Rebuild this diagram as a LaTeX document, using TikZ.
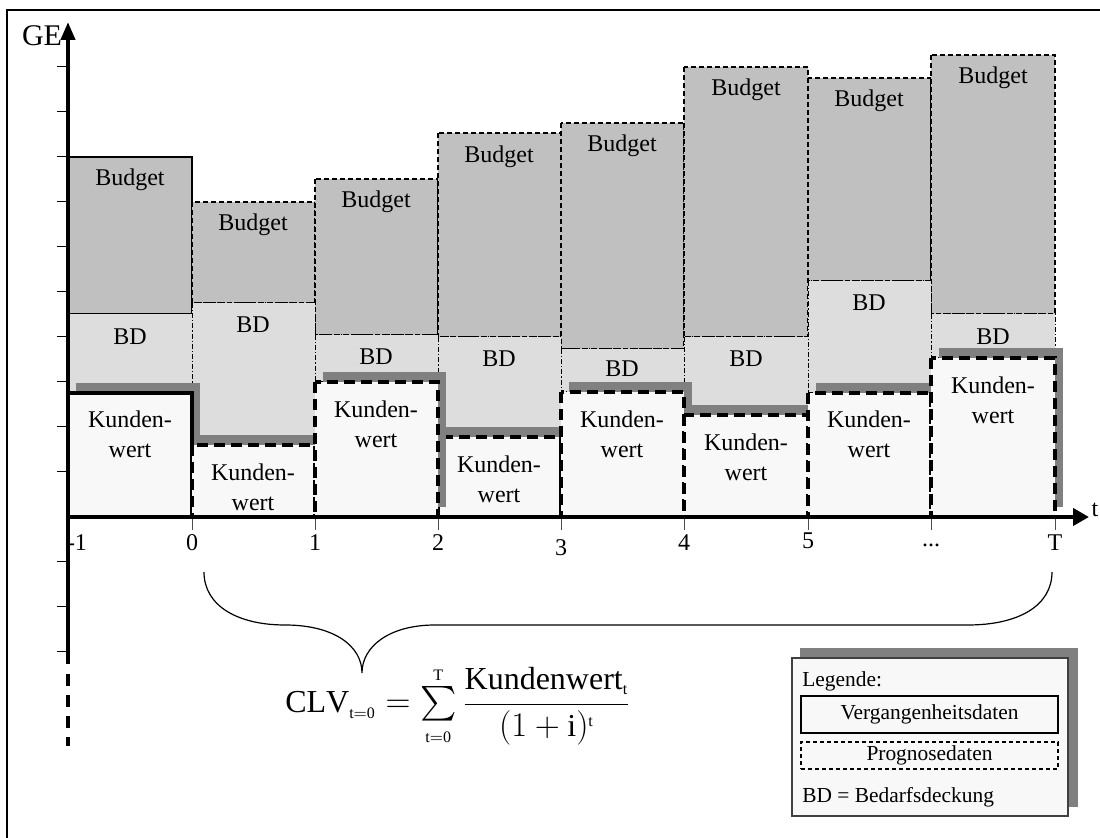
\documentclass[tikz,border=0pt]{standalone}
\usepackage{amsmath}
\usepackage{fontspec}
\setmainfont{Liberation Serif}
\usetikzlibrary{arrows.meta}

\definecolor{budgetgray}{HTML}{C0C0C0}
\definecolor{bdgray}{HTML}{DDDDDD}
\definecolor{kwwhite}{HTML}{F8F8F8}
\definecolor{shadowgray}{HTML}{808080}

\tikzset{
  lbl/.style={inner sep=0pt, align=center, font=\fontsize{12}{15}\selectfont},
  budpast/.style={fill=budgetgray, draw=black, line width=0.6pt},
  budprog/.style={fill=budgetgray, draw=black, line width=0.6pt, dash pattern=on 2.5pt off 1.5pt},
  bdpast/.style={fill=bdgray, draw=black, line width=0.5pt},
  bdprog/.style={fill=bdgray, draw=black, line width=0.5pt, dash pattern=on 2.5pt off 1pt on 0.6pt off 1pt},
  kwpast/.style={fill=kwwhite, draw=black, line width=1.6pt},
  kwprog/.style={fill=kwwhite, draw=black, line width=1.6pt, dash pattern=on 5.5pt off 3pt},
  kwshadow/.style={fill=shadowgray},
  axis/.style={line width=2pt},
  ticklbl/.style={inner sep=0pt, font=\fontsize{12}{14}\selectfont},
  legtxt/.style={inner sep=0pt, font=\fontsize{10.7}{13}\selectfont}
}

\begin{document}
\begin{tikzpicture}[x=0.5pt, y=-0.5pt]
  \useasboundingbox (0,0) rectangle (1100,838);
  \draw[line width=1pt] (7,838) -- (7,10) -- (1100,10);

  % Budget
  \filldraw[budpast] (68,157) rectangle (192,314);
  \filldraw[budprog] (192,202) rectangle (315,303);
  \filldraw[budprog] (315,179) rectangle (438,335);
  \filldraw[budprog] (438,133) rectangle (561,337);
  \filldraw[budprog] (561,123) rectangle (684,349);
  \filldraw[budprog] (684,67) rectangle (808,337);
  \filldraw[budprog] (808,78) rectangle (931,281);
  \filldraw[budprog] (931,55) rectangle (1055,314);

  % Bedarfsdeckung
  \filldraw[bdpast] (68,314) rectangle (192,393);
  \filldraw[bdprog] (192,303) rectangle (315,445);
  \filldraw[bdprog] (315,335) rectangle (438,382);
  \filldraw[bdprog] (438,337) rectangle (561,437);
  \filldraw[bdprog] (561,349) rectangle (684,392);
  \filldraw[bdprog] (684,337) rectangle (808,415);
  \filldraw[bdprog] (808,281) rectangle (931,393);
  \filldraw[bdprog] (931,314) rectangle (1055,358);

  % Kundenwert mit Schatten
  \fill[kwshadow] (76,383) rectangle (200,507);
  \filldraw[kwpast] (68,393) rectangle (192,517);
  \fill[kwshadow] (200,435) rectangle (323,507);
  \filldraw[kwprog] (192,445) rectangle (315,517);
  \fill[kwshadow] (446,427) rectangle (569,507);
  \filldraw[kwprog] (438,437) rectangle (561,517);
  \fill[kwshadow] (569,382) rectangle (692,507);
  \filldraw[kwprog] (561,392) rectangle (684,517);
  \fill[kwshadow] (692,405) rectangle (816,507);
  \filldraw[kwprog] (684,415) rectangle (808,517);
  \fill[kwshadow] (816,383) rectangle (939,507);
  \filldraw[kwprog] (808,393) rectangle (931,517);
  \fill[kwshadow] (939,348) rectangle (1063,507);
  \filldraw[kwprog] (931,358) rectangle (1055,517);
  \fill[kwshadow] (323,372) rectangle (446,507);
  \filldraw[kwprog] (315,382) rectangle (438,517);

  % Beschriftung
  \node[lbl] (budm1) at (130,180) {Budget};
  \node[lbl] (bud0) at (253,225) {Budget};
  \node[lbl] (bud1) at (376,202) {Budget};
  \node[lbl] (bud2) at (499,157) {Budget};
  \node[lbl] (bud3) at (622,146) {Budget};
  \node[lbl] (bud4) at (746,90) {Budget};
  \node[lbl] (bud5) at (869,101) {Budget};
  \node[lbl] (budT) at (993,78) {Budget};

  \node[lbl] (bdm1) at (130,337) {BD};
  \node[lbl] (bd0) at (253,325) {BD};
  \node[lbl] (bd1) at (376,357) {BD};
  \node[lbl] (bd2) at (499,359) {BD};
  \node[lbl] (bd3) at (622,369) {BD};
  \node[lbl] (bd4) at (746,359) {BD};
  \node[lbl] (bd5) at (869,303) {BD};
  \node[lbl] (bdT) at (993,337) {BD};

  \node[lbl] (kwm1) at (130,434) {Kunden-\\wert};
  \node[lbl] (kw0) at (253,487) {Kunden-\\wert};
  \node[lbl] (kw1) at (376,424) {Kunden-\\wert};
  \node[lbl] (kw2) at (499,479) {Kunden-\\wert};
  \node[lbl] (kw3) at (622,434) {Kunden-\\wert};
  \node[lbl] (kw4) at (746,457) {Kunden-\\wert};
  \node[lbl] (kw5) at (869,434) {Kunden-\\wert};
  \node[lbl] (kwT) at (993,400) {Kunden-\\wert};

  % Achsen
  \coordinate (o) at (68,517);
  \coordinate (ytop) at (68,22);
  \coordinate (ybot) at (68,664);
  \coordinate (ydash) at (68,674);
  \coordinate (ytail) at (68,746);
  \coordinate (xend) at (1089,517);
  \draw[line width=0.5pt] (57,67) -- (68,67) (57,112) -- (68,112) (57,157) -- (68,157)
    (57,202) -- (68,202) (57,247) -- (68,247) (57,292) -- (68,292) (57,337) -- (68,337)
    (57,382) -- (68,382) (57,427) -- (68,427) (57,472) -- (68,472) (57,562) -- (68,562)
    (57,607) -- (68,607) (57,652) -- (68,652);
  \draw[line width=0.5pt, black!70] (192,517) -- (192,530) (315,517) -- (315,530)
    (438,517) -- (438,530) (561,517) -- (561,530) (684,517) -- (684,530)
    (808,517) -- (808,530) (931,517) -- (931,530) (1055,517) -- (1055,530);
  \draw[axis, -{Triangle[length=9pt,width=7pt]}] (ybot) -- (ytop);
  \draw[axis, dash pattern=on 6pt off 4.5pt] (ydash) -- (ytail);
  \draw[axis, -{Triangle[length=8pt,width=8.5pt]}] (o) -- (xend);

  \node[inner sep=0pt, font=\fontsize{15}{18}\selectfont] (ge) at (42,36) {GE};
  \node[ticklbl] (tlbl) at (1095,510) {t};
  \node[ticklbl] (tm1) at (77,543) {-1};
  \node[ticklbl] (t0) at (192,543) {0};
  \node[ticklbl] (t1) at (315,543) {1};
  \node[ticklbl] (t2) at (438,543) {2};
  \node[ticklbl] (t3) at (561,548) {3};
  \node[ticklbl] (t4) at (684,543) {4};
  \node[ticklbl] (t5) at (808,541) {5};
  \node[ticklbl] (tdots) at (931,545) {...};
  \node[ticklbl] (tT) at (1055,543) {T};

  % Klammer und Formel
  \draw[line width=0.6pt] (204,572) .. controls (204,606) and (238,625) .. (285,625)
    .. controls (334,625) and (362,646) .. (362,673)
    .. controls (362,646) and (390,625) .. (435,625) -- (968,625)
    .. controls (1018,625) and (1052,606) .. (1052,572);
  \node[inner sep=0pt, font=\fontsize{16}{19}\selectfont] (clv) at (458,706)
    {$\mathrm{CLV}_{\scriptscriptstyle\mathrm{t=0}}=\textstyle\sum\limits_{\scriptscriptstyle\mathrm{t=0}}^{\scriptscriptstyle\mathrm{T}}\dfrac{\mathrm{Kundenwert}_{\scriptscriptstyle\mathrm{t}}}{(1+\mathrm{i})^{\scriptscriptstyle\mathrm{t}}}$};

  % Legende
  \fill[kwshadow] (800,648) rectangle (1078,807);
  \filldraw[fill=kwwhite, draw=black!75, line width=0.75pt] (792,658) rectangle (1068,816);
  \node[legtxt, anchor=west] (leg) at (802,681) {Legende:};
  \node[legtxt, draw, line width=0.6pt, minimum width=128.5pt, minimum height=18.5pt] (verg) at (929.5,714.5) {Vergangenheitsdaten};
  \node[legtxt, draw, line width=0.6pt, dash pattern=on 2pt off 1.5pt, minimum width=128.5pt, minimum height=13.5pt] (prog) at (929.5,755.5) {Prognosedaten};
  \node[legtxt, anchor=west] (bdleg) at (802,797) {BD = Bedarfsdeckung};
\end{tikzpicture}
\end{document}
